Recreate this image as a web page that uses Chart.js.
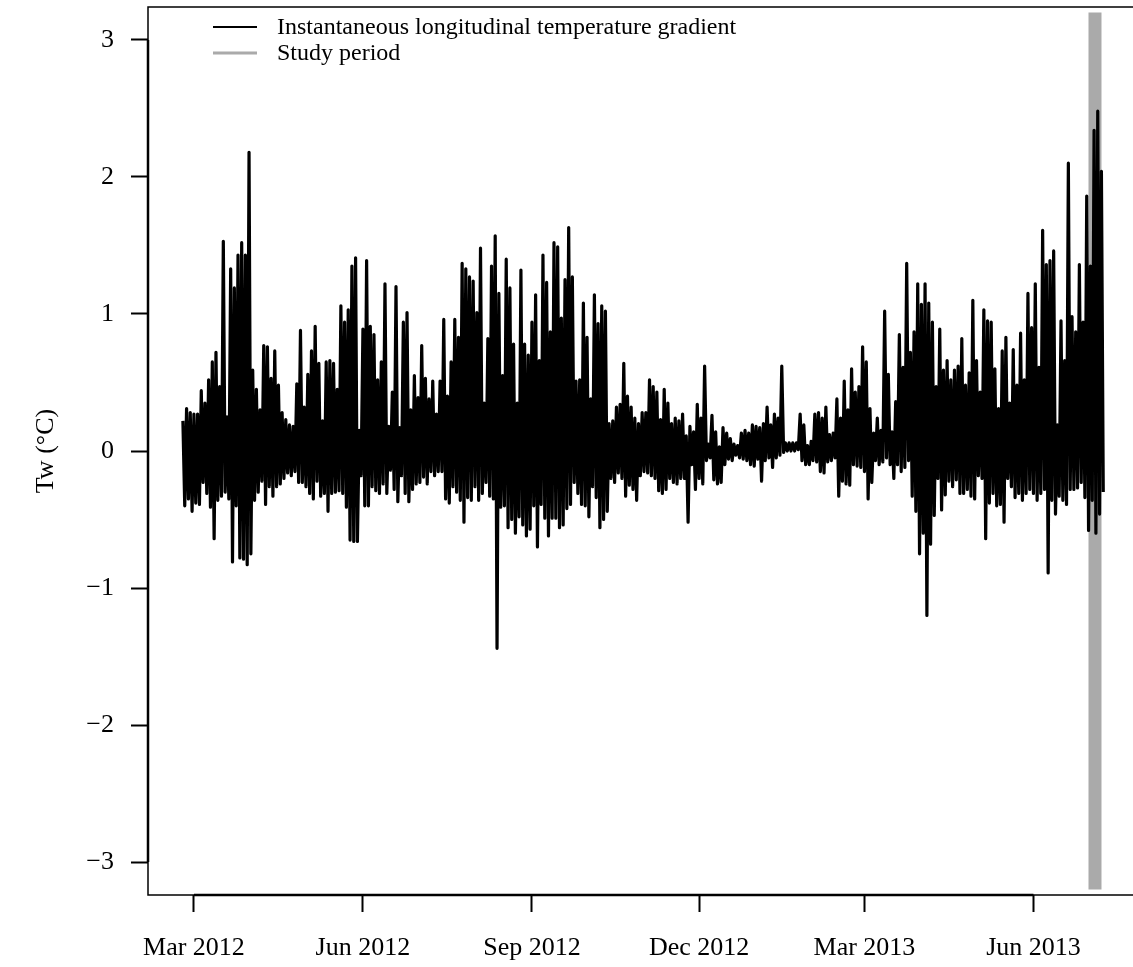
<!DOCTYPE html>
<html>
<head>
<meta charset="utf-8">
<title>Longitudinal temperature gradient</title>
<script src="https://cdn.jsdelivr.net/npm/chart.js@4.4.1/dist/chart.umd.min.js"></script>
<style>
  html, body { margin: 0; padding: 0; background: #fff; overflow: hidden; }
  canvas { display: block; }
</style>
</head>
<body>
<canvas id="gradientChart" width="1160" height="967"></canvas>
<script>
// days are counted from 1 Mar 2012; one high/low pair per 2-day block
const dayStart = -6;
const dayStep = 2;

const peakHigh = [
  0.22, 0.31, 0.28, 0.27, 0.27, 0.44, 0.35, 0.52, 0.65, 0.72,
  0.47, 1.53, 0.25, 1.33, 1.19, 1.43, 1.52, 1.43, 2.18, 0.59,
  0.45, 0.30, 0.77, 0.76, 0.53, 0.73, 0.48, 0.28, 0.23, 0.19,
  0.18, 0.49, 0.88, 0.32, 0.56, 0.73, 0.91, 0.64, 0.22, 0.65,
  0.66, 0.64,
  0.45, 1.06, 0.94, 1.03, 1.35, 1.41, 0.15, 0.89, 1.39, 0.91,
  0.85, 0.52, 0.65, 1.22, 0.18, 0.43, 1.20, 0.17, 0.94, 1.01,
  0.30, 0.55, 0.39, 0.77, 0.53, 0.38, 0.51, 0.27, 0.51, 0.96,
  0.40, 0.65, 0.96, 0.83, 1.37, 1.33, 1.27, 1.24, 1.01, 1.48,
  0.35, 0.82,
  1.35, 1.57, 1.15, 0.55, 1.40, 1.19, 0.78, 0.35, 1.32, 0.78,
  0.70, 0.94, 1.14, 0.66, 1.43, 1.23, 0.87, 1.52, 1.49, 0.97,
  1.25, 1.63, 1.27, 0.51, 0.52, 1.08, 0.83, 0.38, 1.14, 0.93,
  1.06, 1.02, 0.20, 0.22, 0.32, 0.34, 0.64, 0.40, 0.32, 0.24,
  0.20, 0.28,
  0.28, 0.52, 0.47, 0.43, 0.23, 0.45, 0.35, 0.20, 0.24, 0.22,
  0.27, 0.11, 0.18, 0.14, 0.34, 0.24, 0.62, 0.05, 0.26, 0.14,
  0.03, 0.17, 0.13, 0.09, 0.05, 0.04, 0.13, 0.15, 0.13, 0.19,
  0.18, 0.17, 0.20, 0.32, 0.19, 0.27, 0.24, 0.62, 0.06, 0.06,
  0.06, 0.06,
  0.27, 0.19, 0.04, 0.07, 0.27, 0.28, 0.24, 0.32, 0.12, 0.13,
  0.38, 0.24, 0.51, 0.30, 0.60, 0.43, 0.47, 0.76, 0.65, 0.31,
  0.13, 0.24, 0.15, 1.02, 0.56, 0.14, 0.36, 0.85, 0.61, 1.37,
  0.72, 0.87, 1.22, 1.07, 1.22, 1.08, 0.94, 0.47, 0.89, 0.59,
  0.66, 0.52,
  0.59, 0.62, 0.82, 0.48, 0.57, 1.10, 0.66, 0.43, 1.03, 0.95,
  0.94, 0.60, 0.31, 0.73, 0.83, 0.35, 0.74, 0.48, 0.86, 0.52,
  1.15, 0.90, 1.22, 0.61, 1.61, 1.36, 1.39, 1.46, 0.19, 0.95,
  0.66, 2.10, 0.98, 0.87, 1.36, 0.94, 1.86, 1.35, 2.34, 2.48,
  2.04
];

const peakLow = [
  -0.40, -0.35, -0.44, -0.38, -0.39, -0.23, -0.31, -0.41, -0.64, -0.36,
  -0.33, -0.30, -0.35, -0.81, -0.40, -0.78, -0.79, -0.83, -0.75, -0.36,
  -0.30, -0.22, -0.39, -0.26, -0.33, -0.26, -0.24, -0.20, -0.16, -0.18,
  -0.15, -0.23, -0.23, -0.26, -0.31, -0.35, -0.22, -0.33, -0.31, -0.44,
  -0.31, -0.30,
  -0.29, -0.31, -0.41, -0.65, -0.66, -0.66, -0.18, -0.40, -0.40, -0.26,
  -0.29, -0.31, -0.24, -0.31, -0.14, -0.28, -0.37, -0.18, -0.31, -0.37,
  -0.28, -0.24, -0.23, -0.19, -0.24, -0.15, -0.18, -0.15, -0.15, -0.35,
  -0.38, -0.26, -0.30, -0.36, -0.52, -0.34, -0.36, -0.26, -0.36, -0.31,
  -0.23, -0.33,
  -0.35, -1.44, -0.41, -0.40, -0.56, -0.50, -0.60, -0.48, -0.54, -0.62,
  -0.57, -0.40, -0.70, -0.39, -0.49, -0.62, -0.49, -0.49, -0.56, -0.54,
  -0.42, -0.39, -0.23, -0.31, -0.39, -0.40, -0.48, -0.26, -0.34, -0.56,
  -0.50, -0.44, -0.20, -0.23, -0.16, -0.20, -0.33, -0.25, -0.28, -0.36,
  -0.18, -0.15,
  -0.16, -0.18, -0.20, -0.29, -0.31, -0.28, -0.20, -0.23, -0.24, -0.20,
  -0.20, -0.52, -0.10, -0.28, -0.20, -0.24, -0.07, -0.05, -0.21, -0.24,
  -0.23, -0.10, -0.06, -0.07, -0.03, -0.05, -0.06, -0.07, -0.10, -0.11,
  -0.06, -0.22, -0.07, -0.05, -0.12, -0.05, -0.03, -0.01, 0.00, 0.00,
  0.00, 0.01,
  -0.07, -0.10, -0.10, -0.07, -0.08, -0.15, -0.16, -0.08, -0.07, -0.05,
  -0.33, -0.22, -0.24, -0.25, -0.10, -0.11, -0.12, -0.15, -0.35, -0.23,
  -0.07, -0.10, -0.08, -0.05, -0.10, -0.20, -0.10, -0.15, -0.12, -0.07,
  -0.33, -0.44, -0.75, -0.60, -1.20, -0.68, -0.47, -0.20, -0.43, -0.32,
  -0.22, -0.26,
  -0.21, -0.31, -0.31, -0.28, -0.33, -0.35, -0.18, -0.20, -0.64, -0.38,
  -0.31, -0.40, -0.39, -0.52, -0.20, -0.26, -0.34, -0.31, -0.36, -0.31,
  -0.28, -0.31, -0.36, -0.31, -0.28, -0.89, -0.36, -0.46, -0.33, -0.36,
  -0.39, -0.28, -0.28, -0.27, -0.23, -0.34, -0.58, -0.36, -0.60, -0.46,
  -0.30
];

// study period marker (day, and vertical extent in degC)
const studyDay = [490.5];
const studyRange = [-3.2, 3.2];

const tickDays = [0, 92, 184, 275, 365, 457];
const tickLabels = ['Mar 2012', 'Jun 2012', 'Sep 2012', 'Dec 2012', 'Mar 2013', 'Jun 2013'];
const yTicks = [-3, -2, -1, 0, 1, 2, 3];

const serif = "'Liberation Serif', 'Times New Roman', serif";

// trace swings from each block's high down to its low and back up
const gradientPoints = [];
peakHigh.forEach((hi, i) => {
  const d = dayStart + i * dayStep;
  gradientPoints.push({ x: d, y: hi });
  gradientPoints.push({ x: d + dayStep / 2, y: peakLow[i] });
});

const studyPoints = studyRange.map(v => ({ x: studyDay[0], y: v }));

const frame = {
  id: 'frame',
  afterDraw(chart) {
    const { ctx, chartArea } = chart;
    const xs = chart.scales.x;
    const ys = chart.scales.y;
    ctx.save();
    ctx.strokeStyle = '#000';
    ctx.lineWidth = 1.5;
    ctx.strokeRect(chartArea.left, chartArea.top, chartArea.right - chartArea.left, chartArea.bottom - chartArea.top);
    // axis lines run from first to last tick, slightly heavier
    ctx.lineWidth = 2.5;
    ctx.beginPath();
    ctx.moveTo(xs.getPixelForValue(tickDays[0]), chartArea.bottom);
    ctx.lineTo(xs.getPixelForValue(tickDays[tickDays.length - 1]), chartArea.bottom);
    ctx.moveTo(chartArea.left, ys.getPixelForValue(yTicks[0]));
    ctx.lineTo(chartArea.left, ys.getPixelForValue(yTicks[yTicks.length - 1]));
    ctx.stroke();

    // legend in the top-left corner
    const lx = chartArea.left + 65;
    const rows = [
      { text: 'Instantaneous longitudinal temperature gradient', color: '#000', width: 2 },
      { text: 'Study period', color: '#aaaaaa', width: 3 }
    ];
    ctx.font = '24px ' + serif;
    ctx.textBaseline = 'middle';
    ctx.textAlign = 'left';
    rows.forEach((row, i) => {
      const ly = chartArea.top + 20 + i * 26;
      ctx.strokeStyle = row.color;
      ctx.lineWidth = row.width;
      ctx.beginPath();
      ctx.moveTo(lx, ly);
      ctx.lineTo(lx + 44, ly);
      ctx.stroke();
      ctx.fillStyle = '#000';
      ctx.fillText(row.text, lx + 64, ly + 1);
    });
    ctx.restore();
  }
};

new Chart(document.getElementById('gradientChart'), {
  type: 'line',
  data: {
    datasets: [
      {
        label: 'Instantaneous longitudinal temperature gradient',
        data: gradientPoints,
        borderColor: '#000',
        borderWidth: 3.2,
        borderJoinStyle: 'round',
        pointRadius: 0,
        tension: 0,
        order: 1
      },
      {
        label: 'Study period',
        data: studyPoints,
        borderColor: '#aaaaaa',
        borderWidth: 13,
        borderCapStyle: 'butt',
        pointRadius: 0,
        order: 2
      }
    ]
  },
  options: {
    responsive: false,
    animation: false,
    layout: { padding: { top: 7, right: 20, left: 0, bottom: 0 } },
    plugins: {
      legend: { display: false },
      tooltip: { enabled: false }
    },
    scales: {
      x: {
        type: 'linear',
        min: -25,
        max: 515,
        afterBuildTicks: scale => { scale.ticks = tickDays.map(v => ({ value: v })); },
        afterFit: scale => {
          scale.height = 72;
          scale.paddingLeft = 0;
          scale.paddingRight = 0;
        },
        border: { display: false },
        grid: { drawOnChartArea: false, drawTicks: true, tickLength: 17, tickWidth: 2, tickColor: '#000' },
        ticks: {
          autoSkip: false,
          maxRotation: 0,
          padding: 21,
          color: '#000',
          font: { family: serif, size: 26 },
          callback: (value, index) => tickLabels[index]
        }
      },
      y: {
        min: -3.24,
        max: 3.24,
        afterBuildTicks: scale => { scale.ticks = yTicks.map(v => ({ value: v })); },
        afterFit: scale => {
          scale.width = 148;
          scale.paddingTop = 0;
          scale.paddingBottom = 0;
        },
        border: { display: false },
        grid: { drawOnChartArea: false, drawTicks: true, tickLength: 17, tickWidth: 2, tickColor: '#000' },
        ticks: {
          padding: 17,
          color: '#000',
          font: { family: serif, size: 26 },
          callback: value => (value < 0 ? '\u2212' + Math.abs(value) : String(value))
        },
        title: {
          display: true,
          text: 'Tw (°C)',
          color: '#000',
          font: { family: serif, size: 26 },
          padding: { top: 31, bottom: 0 }
        }
      }
    }
  },
  plugins: [frame]
});
</script>
</body>
</html>
